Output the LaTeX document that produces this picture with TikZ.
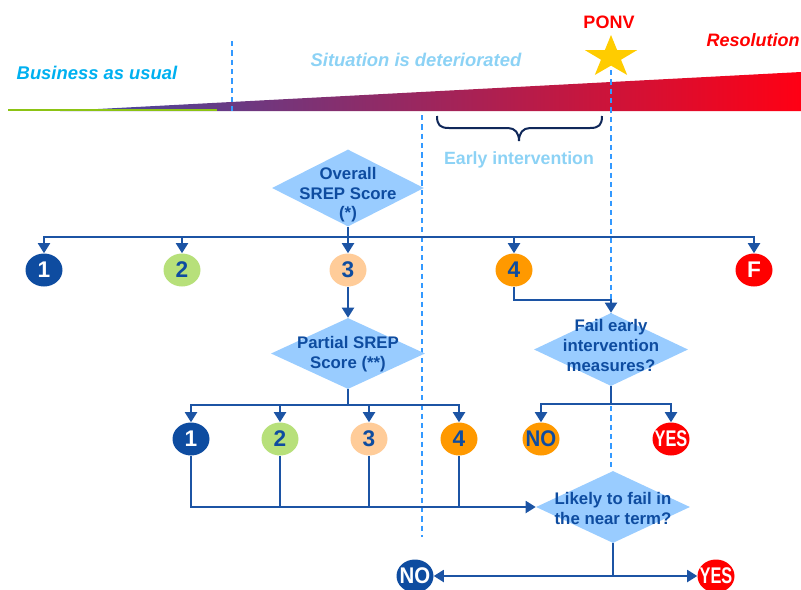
\documentclass[tikz,border=0pt]{standalone}
\usepackage{fontspec}
\setmainfont{Liberation Sans}
\usetikzlibrary{arrows.meta,shapes.geometric}
\definecolor{dblue}{RGB}{14,76,160}
\definecolor{cblue}{RGB}{28,84,164}
\definecolor{dfill}{RGB}{153,204,255}
\definecolor{dashc}{RGB}{51,153,255}
\definecolor{cyanT}{RGB}{0,176,240}
\definecolor{lblueT}{RGB}{140,210,245}
\definecolor{navyB}{RGB}{16,40,90}
\definecolor{gold}{RGB}{255,204,0}
\definecolor{cgreen}{RGB}{183,224,122}
\definecolor{cpeach}{RGB}{255,204,153}
\definecolor{corange}{RGB}{255,153,0}
\definecolor{cred}{RGB}{255,0,0}
\definecolor{lgreen}{RGB}{140,195,20}
\definecolor{gleft}{RGB}{60,75,165}
\definecolor{gmid}{RGB}{182,66,130}
\definecolor{gright}{RGB}{255,0,20}
\begin{document}
\begin{tikzpicture}[x=0.75pt,y=-0.75pt,
  conn/.style={draw=cblue, line width=1.4pt},
  arr/.style={conn, -{Triangle[width=9pt,length=7.5pt]}},
  vdashline/.style={draw=dashc, line width=0.9pt, dash pattern=on 4pt off 3pt},
  dia/.style={diamond, fill=dfill, inner sep=0pt},
  dtext/.style={font=\bfseries\fontsize{12.6}{14.6}\selectfont, text=dblue, align=center, inner sep=0pt},
  num/.style={ellipse, inner sep=0pt, minimum width=27.75pt, minimum height=24.75pt},
  numlbl/.style={font=\bfseries\fontsize{17}{17}\selectfont, inner sep=0pt},
  head/.style={font=\bfseries\itshape\fontsize{13.8}{16}\selectfont, inner sep=0pt}
]
\useasboundingbox (0,0) rectangle (801,590);

% gradient wedge
\shade[left color=gleft, middle color=gmid, right color=gright] (60,111) -- (801,72) -- (801,111) -- cycle;
\draw[lgreen, line width=2pt] (8,110) -- (217,110);

% headings
\node[head, text=cyanT] (hbau) at (97,73) {Business as usual};
\node[head, text=lblueT] (hsit) at (416,60) {Situation is deteriorated};
\node[font=\bfseries\fontsize{13.5}{16}\selectfont, text=cred, inner sep=0pt] (hponv) at (609,22) {PONV};
\node[font=\bfseries\itshape\fontsize{13.5}{16}\selectfont, text=cred, inner sep=0pt] (hres) at (753,40) {Resolution};
\node[font=\bfseries\fontsize{13.3}{16}\selectfont, text=lblueT, inner sep=0pt] (hearly) at (519,160) {Early intervention};

% star
\fill[gold] (611,35) -- (617.2,50.2) -- (637,50.2) -- (621,59.7) -- (627.2,75) -- (611,65.6)
  -- (594.8,75) -- (601,59.7) -- (585,50.2) -- (604.8,50.2) -- cycle;

% brace
\draw[navyB, line width=1.5pt] (437,116) .. controls (437,125) and (440,128) .. (449,128) -- (508,128)
  .. controls (515,128) and (519,133) .. (519,141) .. controls (519,133) and (523,128) .. (530,128)
  -- (590,128) .. controls (599,128) and (602,125) .. (602,116);

% dashed guides
\draw[vdashline] (232,41) -- (232,111);
\draw[vdashline] (422,115) -- (422,537);
\draw[vdashline] (611,70) -- (611,470);

% diamonds
\node[dia, minimum width=114pt, minimum height=57.75pt] (ov) at (348,188) {};
\node[dia, minimum width=115.5pt, minimum height=53.25pt] (p) at (348,353.5) {};
\node[dia, minimum width=115.5pt, minimum height=54.75pt] (f) at (611,349.5) {};
\node[dia, minimum width=115.5pt, minimum height=54pt] (l) at (613,507) {};

\node[dtext] (ovt) at (348,195) {Overall\\SREP Score\\(*)};
\node[dtext] (pt) at (348,354) {Partial SREP\\Score (**)};
\node[dtext, font=\bfseries\fontsize{12.6}{15}\selectfont] (ft) at (611,345) {Fail early\\intervention\\measures?};
\node[dtext] (lt) at (613,508.5) {Likely to fail in\\the near term?};

% top row circles
\node[num, fill=dblue, label={[numlbl, text=white]center:1}] (s1) at (44,270) {};
\node[num, fill=cgreen, label={[numlbl, text=dblue]center:2}] (s2) at (182,270) {};
\node[num, fill=cpeach, label={[numlbl, text=dblue]center:3}] (s3) at (348,270) {};
\node[num, fill=corange, label={[numlbl, text=dblue]center:4}] (s4) at (514,270) {};
\node[num, fill=cred, label={[numlbl, text=white]center:F}] (sF) at (754,270) {};

% second row circles
\node[num, fill=dblue, label={[numlbl, text=white]center:1}] (t1) at (191,439) {};
\node[num, fill=cgreen, label={[numlbl, text=dblue]center:2}] (t2) at (280,439) {};
\node[num, fill=cpeach, label={[numlbl, text=dblue]center:3}] (t3) at (369,439) {};
\node[num, fill=corange, label={[numlbl, text=dblue]center:4}] (t4) at (459,439) {};
\node[num, fill=corange, label={[numlbl, text=dblue]center:\scalebox{0.9}[1]{NO}}] (n1) at (541,439) {};
\node[num, fill=cred, label={[numlbl, text=white]center:\scalebox{0.72}[1]{YES}}] (y1) at (671,439) {};

% bottom circles
\node[num, fill=dblue, label={[numlbl, text=white]center:\scalebox{0.9}[1]{NO}}] (n2) at (415,576) {};
\node[num, fill=cred, label={[numlbl, text=white]center:\scalebox{0.72}[1]{YES}}] (y2) at (716,576) {};

% connectors: overall
\coordinate (b0) at (348,237);
\draw[conn] (ov.south) -- (b0);
\draw[arr] (b0) -| (s1);
\draw[arr] (b0) -| (s2);
\draw[arr] (b0) -- (s3);
\draw[arr] (b0) -| (s4);
\draw[arr] (b0) -| (sF);

% partial
\draw[arr] (s3) -- (p);
\coordinate (b1) at (348,405);
\draw[conn] (p.south) -- (b1);
\draw[arr] (b1) -| (t1);
\draw[arr] (b1) -| (t2);
\draw[arr] (b1) -| (t3);
\draw[arr] (b1) -| (t4);

% fail early
\coordinate (k) at (514,300);
\draw[arr] (s4) -- (k) -| (f.north);
\coordinate (b2) at (611,404);
\draw[conn] (f.south) -- (b2);
\draw[arr] (b2) -| (n1);
\draw[arr] (b2) -| (y1);

% likely
\draw[arr] (t1) |- (l.west);
\draw[conn] (t2) -- (t2 |- l.west);
\draw[conn] (t3) -- (t3 |- l.west);
\draw[conn] (t4) -- (t4 |- l.west);
\coordinate (b3) at (613,576);
\draw[conn] (l.south) -- (b3);
\draw[arr] (b3) -- (n2);
\draw[arr] (b3) -- (y2);
\end{tikzpicture}
\end{document}
